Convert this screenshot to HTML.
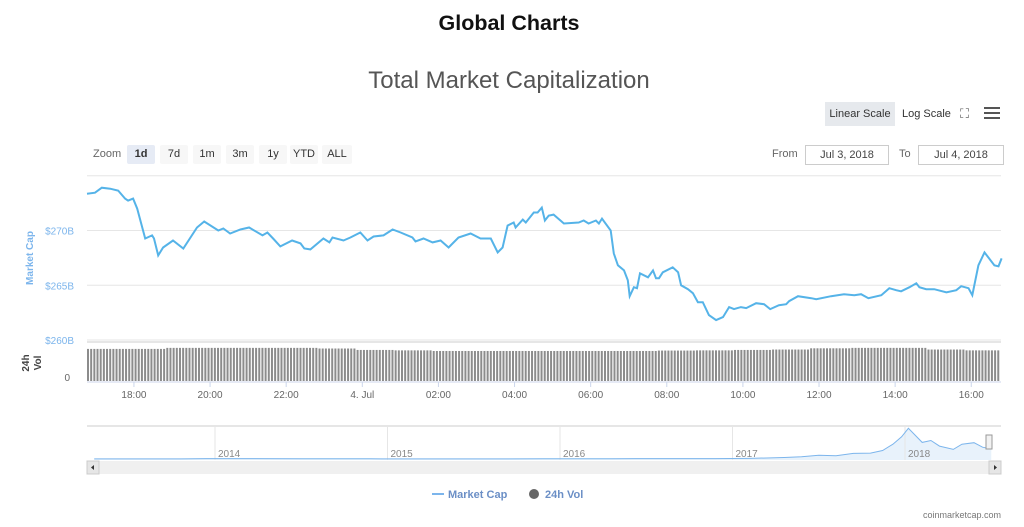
<!DOCTYPE html>
<html><head><meta charset="utf-8"><style>
body{margin:0;width:1024px;height:527px;background:#fff;font-family:"Liberation Sans",sans-serif;overflow:hidden;position:relative}
.abs{position:absolute}
.btn{position:absolute;top:145px;height:19px;font-size:11px;color:#333;background:#f7f7f7;text-align:center;line-height:19px;border-radius:2px}
.inp{position:absolute;top:145px;height:18px;border:1px solid #ccc;font-size:11px;color:#444;line-height:18px;text-align:center}
</style></head><body>
<div class="abs" style="left:0;width:1018px;top:11px;text-align:center;font-size:21.5px;font-weight:bold;color:#111">Global Charts</div>
<div class="abs" style="left:0;width:1018px;top:67px;text-align:center;font-size:24px;color:#555">Total Market Capitalization</div>
<div class="abs" style="left:825px;top:102px;width:70px;height:24px;background:#e6e9ed;font-size:11px;line-height:24px;text-align:center;color:#333">Linear Scale</div>
<div class="abs" style="left:902px;top:102px;height:24px;font-size:11px;line-height:24px;color:#333">Log Scale</div>
<div class="abs" style="left:960px;top:106px;font-size:13px;color:#666">⛶</div>
<div class="abs" style="left:984px;top:107px;width:16px;height:12px;border-top:2px solid #555;border-bottom:2px solid #555;box-sizing:border-box"><div style="margin-top:3px;height:2px;background:#555"></div></div>
<div class="abs" style="left:93px;top:148px;font-size:11px;color:#666">Zoom</div>
<div class="btn" style="left:127px;width:28px;background:#e6ebf5;font-weight:bold">1d</div>
<div class="btn" style="left:160px;width:28px">7d</div>
<div class="btn" style="left:193px;width:28px">1m</div>
<div class="btn" style="left:226px;width:28px">3m</div>
<div class="btn" style="left:259px;width:28px">1y</div>
<div class="btn" style="left:290px;width:28px">YTD</div>
<div class="btn" style="left:322px;width:30px">ALL</div>
<div class="abs" style="left:772px;top:148px;font-size:11px;color:#666">From</div>
<div class="inp" style="left:805px;width:82px">Jul 3, 2018</div>
<div class="abs" style="left:899px;top:148px;font-size:11px;color:#666">To</div>
<div class="inp" style="left:918px;width:84px">Jul 4, 2018</div>

<svg class="abs" style="left:0;top:0" width="1024" height="527">
<g id="grid"></g><g id="vol"></g><g id="line"></g><g id="nav"></g>
<text x="33" y="258" transform="rotate(-90 33 258)" text-anchor="middle" font-size="10" font-weight="bold" fill="#7cb5ec">Market Cap</text>
<text x="29" y="363" transform="rotate(-90 29 363)" text-anchor="middle" font-size="10" font-weight="bold" fill="#444">24h</text>
<text x="41" y="363" transform="rotate(-90 41 363)" text-anchor="middle" font-size="10" font-weight="bold" fill="#444">Vol</text>
<text x="70" y="381" text-anchor="end" font-size="10" fill="#666">0</text>
<line x1="432" y1="494" x2="444" y2="494" stroke="#7cb5ec" stroke-width="2"/>
<text x="448" y="498" font-size="11" font-weight="bold" fill="#6b8fc6">Market Cap</text>
<circle cx="534" cy="494" r="5" fill="#666"/>
<text x="545" y="498" font-size="11" font-weight="bold" fill="#6b8fc6">24h Vol</text>
<text x="1001" y="518" text-anchor="end" font-size="9" fill="#777">coinmarketcap.com</text>
</svg>
<script>
const hours=[0,.21,.39,.61,.82,1,1.08,1.21,1.32,1.53,1.71,1.76,1.87,2,2.26,2.53,2.89,3.08,3.45,3.58,3.76,4.03,4.26,4.61,4.74,4.89,5.08,5.39,5.61,5.71,5.87,6.21,6.37,6.45,6.74,6.92,7.18,7.37,7.53,7.79,8.03,8.24,8.55,8.63,8.84,9.08,9.29,9.5,9.76,10.08,10.34,10.61,10.79,10.92,11.05,11.21,11.26,11.45,11.53,11.74,11.84,11.95,12.03,12.13,12.26,12.53,12.92,13.05,13.18,13.37,13.45,13.53,13.76,13.84,13.95,14.11,14.21,14.26,14.37,14.45,14.53,14.74,14.87,14.95,15.03,15.13,15.39,15.53,15.61,15.79,15.92,16.05,16.18,16.34,16.53,16.71,16.87,17,17.18,17.32,17.58,17.79,17.95,18.18,18.37,18.45,18.68,19.03,19.16,19.55,19.89,20.16,20.34,20.53,20.87,21.08,21.26,21.39,21.61,21.79,21.87,22.05,22.26,22.58,22.84,22.97,23.16,23.26,23.42,23.58,23.84,23.95,24.03];
const marketCap=[273.36,273.45,273.91,273.82,273.64,272.91,272.73,272.91,272,269.27,269.55,269.27,267.73,268.45,269.09,268.36,270.27,270.82,270,270.18,269.73,270.09,270.27,269.55,269.82,269.27,268.55,269.09,268.82,268.36,268.27,269.27,268.91,269.36,269.09,269.36,269.82,269.09,269.45,269.55,270.09,269.82,269.36,269,269.27,268.91,269.09,268.45,269.36,269.73,269.27,269.27,268,268.45,270.45,270.73,270.27,271,270.73,271.64,271.64,272.09,270.91,271.36,271.45,270.64,270.73,270.91,270.64,270.91,270.64,271.09,270,267.91,266.82,266.36,265.45,264,264.82,264.73,266.09,265.73,266.36,265.64,265.64,266.18,266.64,266.18,265,264.64,264.27,263.45,263.45,262.27,261.82,262.09,263,262.82,263,262.91,263.36,263.27,262.82,263.18,263.27,263.55,264,263.82,263.73,264,264.18,264.09,264.18,263.82,264.09,264.73,264.55,264.45,264.82,265.18,264.82,264.64,264.64,264.36,264.55,264.91,264.73,264.09,266.82,268,266.82,266.73,267.45];
const yTicks=[260,265,270,275];
const yTickLabels=["$260B","$265B","$270B",""];
const xTickLabels=["18:00","20:00","22:00","4. Jul","02:00","04:00","06:00","08:00","10:00","12:00","14:00","16:00"];
const xTickHours=[1.2333,3.2333,5.2333,7.2333,9.2333,11.2333,13.2333,15.2333,17.2333,19.2333,21.2333,23.2333];
const volHourly=[15.5,15.5,16,16,16,16,15.7,15,14.8,14.5,14.5,14.5,14.5,14.5,14.5,14.7,14.8,15,15.2,15.8,16,16,15.2,14.8,14.5,14.4];
const navYears=["2014","2015","2016","2017","2018"];
const navYearPos=[2014,2015,2016,2017,2018];
const navDates=[2013.3,2013.8,2013.95,2014.1,2014.5,2014.9,2015.3,2015.9,2016.3,2016.5,2016.9,2017.1,2017.3,2017.4,2017.5,2017.6,2017.7,2017.8,2017.87,2017.93,2017.98,2018.02,2018.1,2018.15,2018.2,2018.28,2018.33,2018.4,2018.45,2018.5];
const navValues=[1.5,3,12,10,7,5,4,5,8,10,12,17,40,60,100,90,150,160,230,400,600,830,450,500,350,260,400,440,320,270];
const NS="http://www.w3.org/2000/svg";
function mk(t,a,p){const e=document.createElementNS(NS,t);for(const k in a)e.setAttribute(k,a[k]);p.appendChild(e);return e;}
const X=h=>87+h*38.06, Y=v=>340-(v-260)*10.95;
const VY=v=>381-v*2.07;
const NX=d=>215+(d-2014)*172.5, NY=v=>459-v*0.037;
const g=document.getElementById('grid');
yTicks.forEach((t,i)=>{const l=mk('line',{x1:87,x2:1001,y1:Y(t),y2:Y(t),stroke:'#e6e6e6'},g);

const tx=mk('text',{x:74,y:Y(t)+4,'text-anchor':'end','font-size':10,fill:'#7cb5ec'},g);tx.textContent=yTickLabels[i];
});
mk('line',{x1:87,x2:1001,y1:342,y2:342,stroke:'#ccc'},g);
xTickLabels.forEach((s,i)=>{const x=X(xTickHours[i]);
mk('line',{x1:x,x2:x,y1:382,y2:387,stroke:'#ccd6eb'},g);
const tx=mk('text',{x:x,y:398,'text-anchor':'middle','font-size':10,fill:'#666'},g);tx.textContent=s;
});
mk('line',{x1:87,x2:1001,y1:382,y2:382,stroke:'#ccd6eb'},g);
const vg=document.getElementById('vol');
for(let h=0;X(h)<999;h+=1/12){const v=volHourly[Math.floor(h)];
const b=mk('rect',{x:X(h),y:VY(v),width:2,height:381-VY(v),fill:'#8c8c8c'},vg);
}
const lg=document.getElementById('line');
const p=mk('path',{d:hours.map((h,i)=>(i?'L':'M')+X(h).toFixed(1)+','+Y(marketCap[i]).toFixed(1)).join(''),fill:'none',stroke:'#55b3e8','stroke-width':2},lg);

const ng=document.getElementById('nav');
mk('line',{x1:87,x2:1001,y1:426,y2:426,stroke:'#ccc'},ng);
const pts=navDates.map((d,i)=>NX(d).toFixed(1)+','+NY(navValues[i]).toFixed(1));
const na=mk('path',{d:'M'+pts.join('L')+'L'+NX(navDates[navDates.length-1])+',460L'+NX(navDates[0])+',460Z',fill:'#e8f2fb'},ng);

navYears.forEach((s,i)=>{const x=NX(navYearPos[i]);mk('line',{x1:x,x2:x,y1:427,y2:460,stroke:'#e6e6e6'},ng);
const t=mk('text',{x:x+3,y:457,'font-size':10,fill:'#888'},ng);t.textContent=s;
});
const nl=mk('path',{d:'M'+pts.join('L'),fill:'none',stroke:'#7cb5ec','stroke-width':1},ng);

const h1=mk('rect',{x:986,y:435,width:6,height:14,fill:'#f2f2f2',stroke:'#999'},ng);

const sb=mk('rect',{x:87,y:461,width:914,height:13,fill:'#f0f0f0'},ng);

mk('rect',{x:87,y:461,width:12,height:13,fill:'#e6e6e6',stroke:'#ccc'},ng);
mk('rect',{x:989,y:461,width:12,height:13,fill:'#e6e6e6',stroke:'#ccc'},ng);
mk('path',{d:'M94,465L91,467.5L94,470Z',fill:'#333'},ng);
mk('path',{d:'M994,465L997,467.5L994,470Z',fill:'#333'},ng);
</script>
</body></html>
